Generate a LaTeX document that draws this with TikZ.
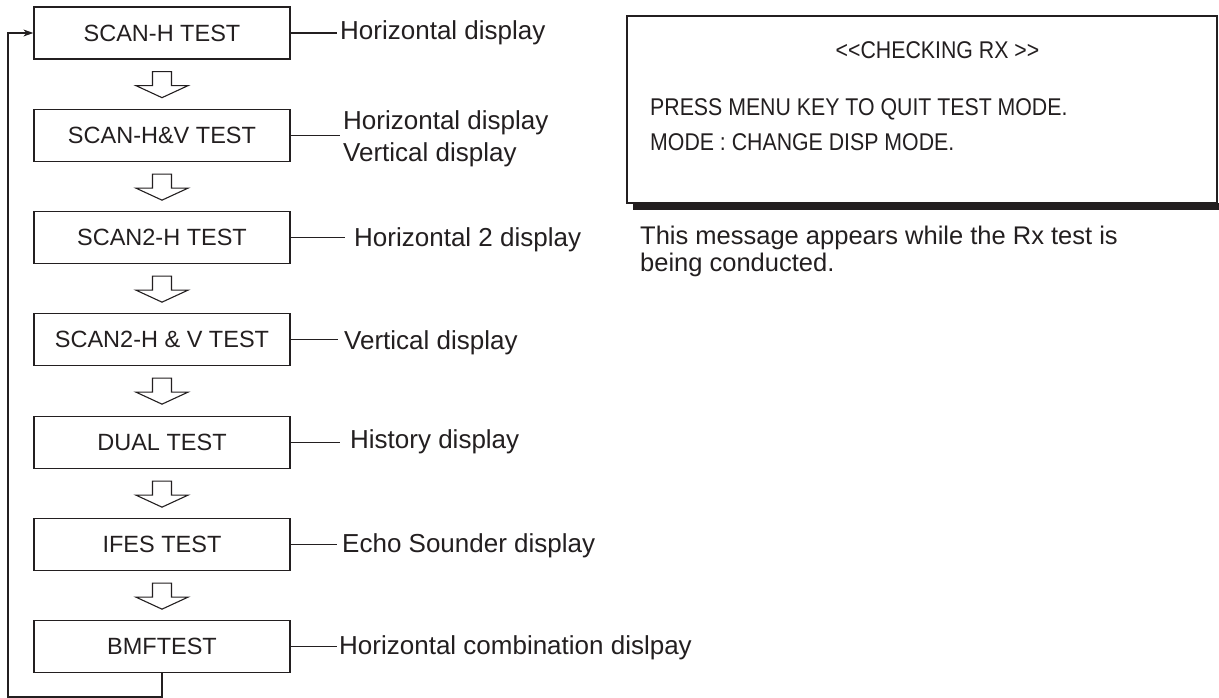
\documentclass[tikz,border=0pt]{standalone}
\usepackage{fontspec}
\setmainfont{Liberation Sans}
\newfontfamily\msgfont[FakeStretch=0.88]{Liberation Sans}
\usetikzlibrary{calc,arrows.meta}
\definecolor{ink}{HTML}{231F20}
\tikzset{
  testbox/.style={draw=ink, line width=1.3pt, minimum width=256pt, minimum height=52pt,
    inner sep=0pt, font=\fontsize{23.5}{28}\selectfont, text=ink},
  lab/.style={anchor=base west, inner ysep=0pt, font=\fontsize{26}{32.4}\selectfont, text=ink, align=left},
  msg/.style={anchor=base west, inner sep=0pt, font=\msgfont\fontsize{24.2}{29}\selectfont, text=ink},
  wire/.style={draw=ink, line width=1.2pt},
  harrow/.style={draw=ink, line width=1.1pt, fill=white, line join=miter},
}
\begin{document}
\begin{tikzpicture}[x=1pt, y=-1pt]
\fill[white] (0,0) rectangle (1219,698);
\useasboundingbox (0,0) rectangle (1219,698);

% flow boxes
\node[testbox] (b1) at (162,33)    {SCAN-H TEST};
\node[testbox] (b2) at (162,135.5) {SCAN-H\&V TEST};
\node[testbox] (b3) at (162,237.5) {SCAN2-H TEST};
\node[testbox] (b4) at (162,339.5) {SCAN2-H \& V TEST};
\node[testbox] (b5) at (162,442.5) {DUAL TEST};
\node[testbox] (b6) at (162,544.5) {IFES TEST};
\node[testbox] (b7) at (162,646.5) {BMFTEST};

% hollow arrows between boxes
\foreach \a in {1,...,6}{
  \draw[harrow, shift={(b\a.south)}] (-9.5,12) -- (-9.5,26) -- (-26,26) -- (0,38) -- (26,26) -- (9.5,26) -- (9.5,12) -- cycle;
}

% loop back
\coordinate (lp) at (8,697);
\draw[wire, -{Stealth[length=10pt,width=7pt]}] (b7.south) |- (lp) |- (b1.west);

% labels
\node[lab, inner xsep=3pt] (l1) at (337,39.5) {Horizontal display};
\node[lab, inner xsep=3pt] (l2) at (340,161.7) {Horizontal display\\Vertical display};
\node[lab, inner xsep=9pt] (l3) at (345,246.5) {Horizontal 2 display};
\node[lab, inner xsep=6pt] (l4) at (338,349) {Vertical display};
\node[lab, inner xsep=10pt] (l5) at (340,448) {History display};
\node[lab, inner xsep=5pt] (l6) at (337,552.5) {Echo Sounder display};
\node[lab, inner xsep=2pt] (l7) at (337,654) {Horizontal combination dislpay};

\foreach \a in {1,2,3,4,5,6,7}{
  \draw[wire] (b\a.east) -- (b\a.east -| l\a.west);
}

% message box
\fill[ink] (633,203) rectangle (1219,210.5);
\node[draw=ink, line width=1.2pt, minimum width=590pt, minimum height=187pt, inner sep=0pt] (mbox) at (922,109.5) {};
\node[msg, anchor=base] (mt) at (937.5,59) {<{}<CHECKING RX >{}>};
\node[msg] (m1) at (650,116) {PRESS MENU KEY TO QUIT TEST MODE.};
\node[msg] (m2) at (650,150.5) {MODE : CHANGE DISP MODE.};

% caption
\node[anchor=base west, inner sep=0pt, font=\fontsize{25.5}{26.5}\selectfont, text=ink, align=left] (cap) at (640,271)
  {This message appears while the Rx test is\\being conducted.};
\end{tikzpicture}
\end{document}
